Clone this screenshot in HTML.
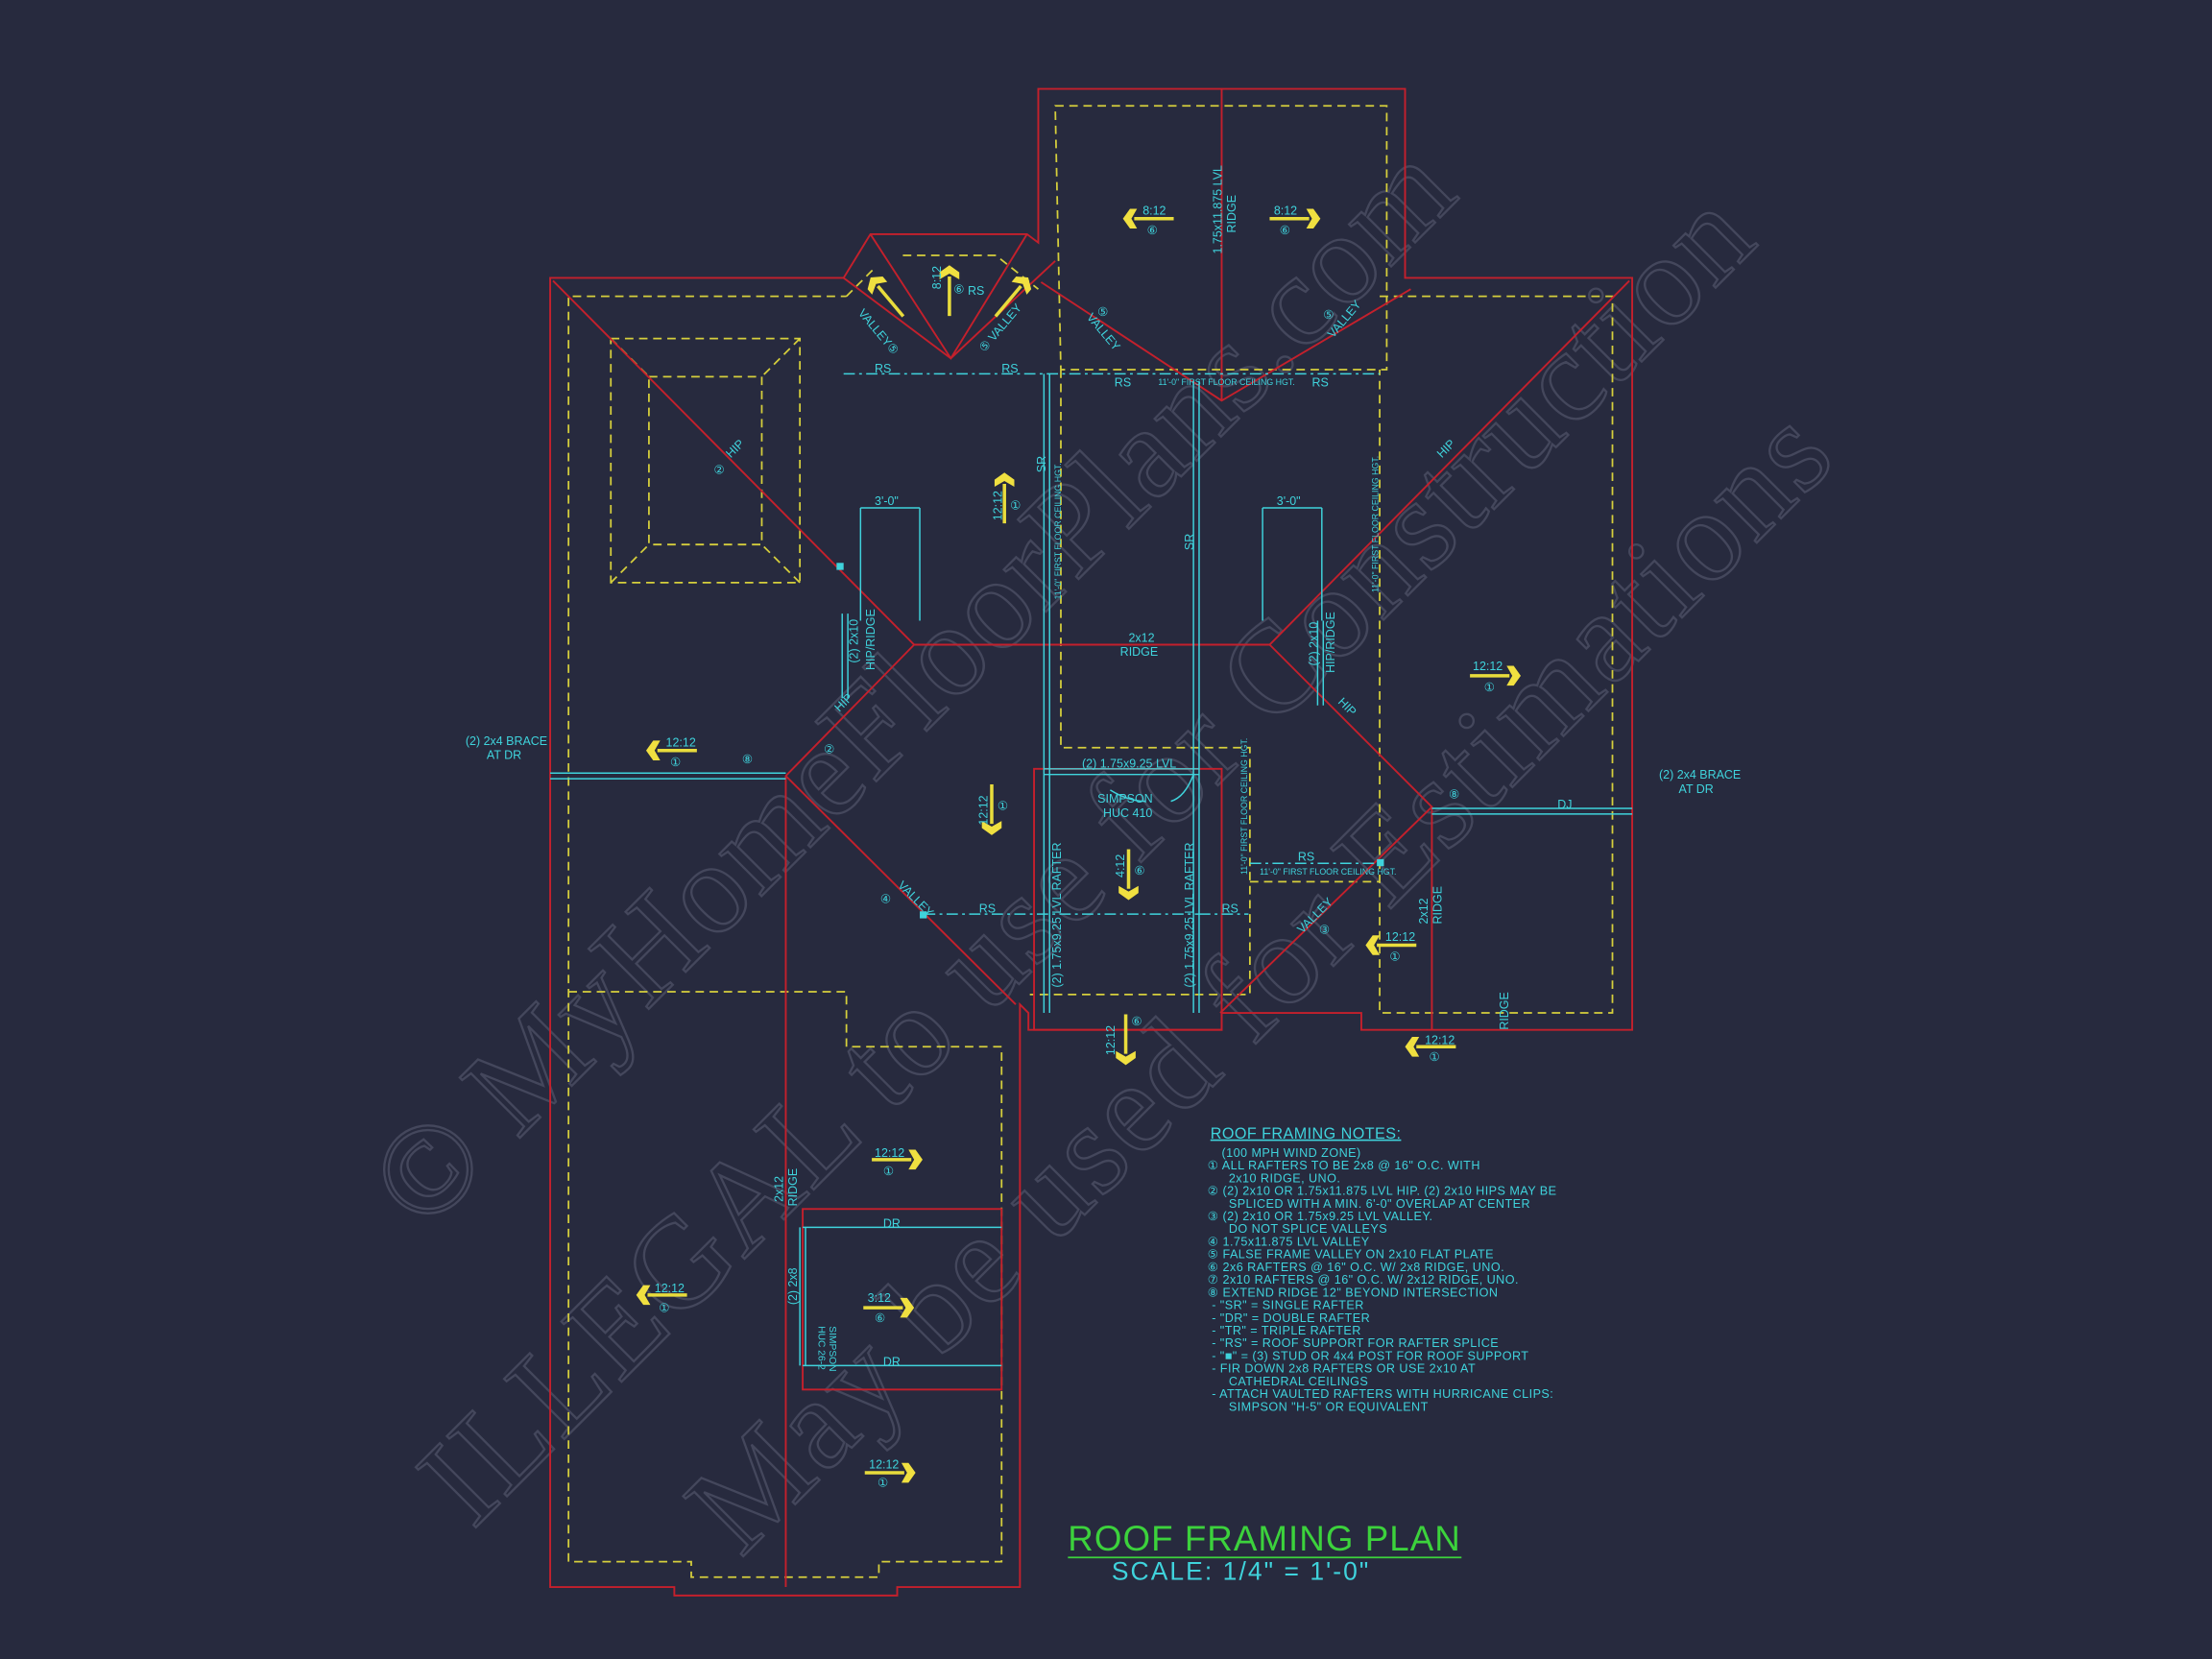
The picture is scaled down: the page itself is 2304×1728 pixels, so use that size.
<!DOCTYPE html>
<html><head><meta charset="utf-8"><style>
html,body{margin:0;padding:0;background:#272a3e;}
svg{display:block}
text{font-family:"Liberation Sans",sans-serif;}
.c{fill:#3fd3dc;font-size:8.5px}
.r{stroke:#c4202c;stroke-width:1.3;fill:none}
.y{stroke:#d6cf3c;stroke-width:1.2;fill:none;stroke-dasharray:6 4}
.cy{stroke:#3fd3dc;stroke-width:1;fill:none}
.cyd{stroke:#3fd3dc;stroke-width:1;fill:none;stroke-dasharray:8 3 2 3}
.wm{fill:none;stroke:#44475c;stroke-width:1.6;font-family:"Liberation Serif",serif;font-size:92px}
</style></head><body>
<svg width="2304" height="1728" viewBox="0 0 1568 1176" xmlns="http://www.w3.org/2000/svg">
<defs>
<g id="ar"><line x1="-16" y1="0" x2="12" y2="0" stroke="#e8dc3c" stroke-width="2.4"/><polygon points="10,-7 15,-7 20,0 15,7 10,7 14,0" fill="#f0e040"/></g>
</defs>
<rect width="1568" height="1176" fill="#272a3e"/>
<!-- watermark -->
<text class="wm" transform="translate(300,875) rotate(-45)" textLength="1040">© MyHomeFloorPlans.com</text>
<text class="wm" transform="translate(335,1085) rotate(-45)" textLength="1290">ILLEGAL to use for Construction</text>
<text class="wm" transform="translate(525,1105) rotate(-45)" textLength="1100">May be used for Estimations</text>

<!-- yellow dashed -->
<path class="y" d="M403,1107 L403,210 L600,210 M640,181 L706,181 L736,205 M748,75 L983,75 L983,262 L752,262 Z M978,210 L1143,210 L1143,718 L978,718 L978,262 M752,262 L752,530 L886,530 L886,705 L730,705 M886,625 L978,625 M403,703 L600,703 L600,742 L710,742 L710,1107 L623,1107 L623,1118 L490,1118 L490,1107 L403,1107 M600,210 L620,190"/>
<rect class="y" x="433" y="240" width="134" height="173"/>
<rect class="y" x="460" y="267" width="80" height="119"/>
<path class="y" d="M433,240 L460,267 M567,240 L540,267 M433,413 L460,386 M567,413 L540,386"/>

<!-- red -->
<path class="r" d="M736,63 L996,63 L996,197 L1157,197 L1157,730 L965,730 L965,718 L866,718 L866,730 L729,730 L729,718 L723,712 L723,1125 L636,1125 L636,1131 L478,1131 L478,1125 L390,1125 L390,197 L598,197 L617,166 L728,166 L736,172 Z"/>
<path class="r" d="M392,199 L648,457 L900,457 L1155,199 M557,550 L648,457 M557,550 L720,712 M900,457 L1015,572 L865,718 M557,550 L557,1125 M866,63 L866,284 M738,200 L866,284 L1000,205 M598,197 L674,254 L748,185 M617,166 L674,254 L728,166 M1015,572 L1015,730"/>
<rect class="r" x="733" y="545" width="133" height="185"/>
<rect class="r" x="569" y="857" width="141" height="128"/>

<!-- cyan lines -->
<path class="cyd" d="M598,265 L978,265 M655,648 L850,648 M850,648 L885,648 M886,612 L978,612"/>
<path class="cy" d="M740,265 L740,718 M744,265 L744,718 M846,270 L846,718 M850,270 L850,718 M390,548 L557,548 M390,552 L557,552 M1015,573 L1157,573 M1015,577 L1157,577 M740,545 L850,545 M740,549 L850,549 M569,870 L710,870 M569,968 L710,968 M567,870 L567,968 M571,870 L571,968 M934,440 L934,500 M938,440 L938,500 M597,435 L597,495 M601,435 L601,495"/>
<path class="cy" d="M610,360 L652,360 M610,360 L610,440 M652,360 L652,440 M895,360 L937,360 M895,360 L895,440 M937,360 L937,440 M787,560 Q800,568 812,568 M830,568 Q840,565 846,549"/>
<rect x="593" y="399" width="5" height="5" fill="#3fd3dc"/>
<rect x="652" y="646" width="5" height="5" fill="#3fd3dc"/>
<rect x="976" y="609" width="5" height="5" fill="#3fd3dc"/>

<!-- arrows -->
<use href="#ar" transform="translate(816,155) rotate(180)"/>
<use href="#ar" transform="translate(916,155)"/>
<use href="#ar" transform="translate(673,208) rotate(-90)"/>
<use href="#ar" transform="translate(630,212) rotate(-130)"/>
<use href="#ar" transform="translate(716,212) rotate(-50)"/>
<use href="#ar" transform="translate(712,355) rotate(-90)"/>
<use href="#ar" transform="translate(478,532) rotate(180)"/>
<use href="#ar" transform="translate(1058,479)"/>
<use href="#ar" transform="translate(703,572) rotate(90)"/>
<use href="#ar" transform="translate(800,618) rotate(90)"/>
<use href="#ar" transform="translate(988,670) rotate(180)"/>
<use href="#ar" transform="translate(798,735) rotate(90)"/>
<use href="#ar" transform="translate(1016,742) rotate(180)"/>
<use href="#ar" transform="translate(634,822)"/>
<use href="#ar" transform="translate(471,918) rotate(180)"/>
<use href="#ar" transform="translate(628,927)"/>
<use href="#ar" transform="translate(629,1044)"/>

<!-- labels -->
<g class="c">
<text x="810" y="152">8:12</text><text x="813" y="166">⑥</text>
<text x="903" y="152">8:12</text><text x="907" y="166">⑥</text>
<text x="866" y="180" transform="rotate(-90 866 180)">1.75x11.875 LVL</text>
<text x="876" y="165" transform="rotate(-90 876 165)">RIDGE</text>
<text x="770" y="225" transform="rotate(50 770 225)">VALLEY</text><text x="778" y="224">⑤</text>
<text x="945" y="240" transform="rotate(-50 945 240)">VALLEY</text><text x="938" y="226">⑤</text>
<text x="790" y="274">RS</text><text x="930" y="274">RS</text><text x="821" y="273" style="font-size:6px">11'-0" FIRST FLOOR CEILING HGT.</text>
<text x="620" y="264">RS</text><text x="710" y="264">RS</text>
<text x="686" y="209">RS</text>
<text x="608" y="222" transform="rotate(50 608 222)">VALLEY⑤</text>
<text x="698" y="250" transform="rotate(-50 698 250)">⑤ VALLEY</text>
<text x="667" y="205" transform="rotate(-90 667 205)">8:12</text><text x="676" y="208">⑥</text>
<text x="506" y="336">②</text><text x="518" y="325" transform="rotate(-45 518 325)">HIP</text>
<text x="710" y="369" transform="rotate(-90 710 369)">12:12</text><text x="716" y="361">①</text>
<text x="741" y="335" transform="rotate(-90 741 335)">SR</text>
<text x="846" y="390" transform="rotate(-90 846 390)">SR</text>
<text x="752" y="425" transform="rotate(-90 752 425)" style="font-size:6px">11'-0" FIRST FLOOR CEILING HGT.</text>
<text x="977" y="420" transform="rotate(-90 977 420)" style="font-size:6px">11'-0" FIRST FLOOR CEILING HGT.</text>
<text x="1022" y="325" transform="rotate(-45 1022 325)">HIP</text>
<text x="620" y="358">3'-0"</text><text x="905" y="358">3'-0"</text>
<text x="608" y="470" transform="rotate(-90 608 470)">(2) 2x10</text>
<text x="620" y="475" transform="rotate(-90 620 475)">HIP/RIDGE</text>
<text x="934" y="472" transform="rotate(-90 934 472)">(2) 2x10</text>
<text x="946" y="477" transform="rotate(-90 946 477)">HIP/RIDGE</text>
<text x="800" y="455">2x12</text><text x="794" y="465">RIDGE</text>
<text x="595" y="505" transform="rotate(-45 595 505)">HIP</text>
<text x="948" y="498" transform="rotate(45 948 498)">HIP</text>
<text x="1044" y="475">12:12</text><text x="1052" y="490">①</text>
<text x="330" y="528">(2) 2x4 BRACE</text><text x="345" y="538">AT DR</text>
<text x="472" y="529">12:12</text><text x="475" y="543">①</text>
<text x="526" y="541">⑧</text><text x="584" y="534">②</text>
<text x="1176" y="552">(2) 2x4 BRACE</text><text x="1190" y="562">AT DR</text>
<text x="1027" y="566">⑧</text><text x="1104" y="573">DJ</text>
<text x="767" y="544">(2) 1.75x9.25 LVL</text>
<text x="778" y="569">SIMPSON</text><text x="782" y="579">HUC 410</text>
<text x="700" y="585" transform="rotate(-90 700 585)">12:12</text><text x="707" y="574">①</text>
<text x="797" y="622" transform="rotate(-90 797 622)">4:12</text><text x="804" y="620">⑥</text>
<text x="752" y="700" transform="rotate(-90 752 700)">(2) 1.75x9.25 LVL RAFTER</text>
<text x="846" y="700" transform="rotate(-90 846 700)">(2) 1.75x9.25 LVL RAFTER</text>
<text x="884" y="620" transform="rotate(-90 884 620)" style="font-size:6px">11'-0" FIRST FLOOR CEILING HGT.</text>
<text x="893" y="620" style="font-size:6px">11'-0" FIRST FLOOR CEILING HGT.</text>
<text x="920" y="610">RS</text><text x="866" y="647">RS</text><text x="694" y="647">RS</text>
<text x="636" y="628" transform="rotate(45 636 628)">VALLEY</text><text x="624" y="640">④</text>
<text x="923" y="662" transform="rotate(-45 923 662)">VALLEY</text><text x="935" y="662">③</text>
<text x="982" y="667">12:12</text><text x="985" y="681">①</text>
<text x="1012" y="655" transform="rotate(-90 1012 655)">2x12</text>
<text x="1022" y="655" transform="rotate(-90 1022 655)">RIDGE</text>
<text x="1069" y="730" transform="rotate(-90 1069 730)">RIDGE</text>
<text x="790" y="748" transform="rotate(-90 790 748)">12:12</text><text x="802" y="727">⑥</text>
<text x="1010" y="740">12:12</text><text x="1013" y="752">①</text>
<text x="620" y="820">12:12</text><text x="626" y="833">①</text>
<text x="555" y="852" transform="rotate(-90 555 852)">2x12</text>
<text x="565" y="855" transform="rotate(-90 565 855)">RIDGE</text>
<text x="626" y="870">DR</text><text x="626" y="968">DR</text>
<text x="565" y="925" transform="rotate(-90 565 925)">(2) 2x8</text>
<text x="588" y="940" transform="rotate(90 588 940)" style="font-size:7px">SIMPSON</text>
<text x="580" y="940" transform="rotate(90 580 940)" style="font-size:7px">HUC 26-2</text>
<text x="615" y="923">3:12</text><text x="620" y="937">⑥</text>
<text x="464" y="916">12:12</text><text x="467" y="930">①</text>
<text x="616" y="1041">12:12</text><text x="622" y="1054">①</text>
</g>

<!-- notes -->
<g class="c" style="font-size:8.6px;letter-spacing:0.3px">
<text x="858" y="807" style="font-size:11px;text-decoration:underline">ROOF FRAMING NOTES:</text>
<text x="866" y="820">(100 MPH WIND ZONE)</text>
<text x="856" y="829">①  ALL RAFTERS TO BE 2x8 @ 16" O.C. WITH</text>
<text x="871" y="838">2x10 RIDGE, UNO.</text>
<text x="856" y="847">②  (2) 2x10 OR 1.75x11.875 LVL HIP. (2) 2x10 HIPS MAY BE</text>
<text x="871" y="856">SPLICED WITH A MIN. 6'-0" OVERLAP AT CENTER</text>
<text x="856" y="865">③  (2) 2x10 OR 1.75x9.25 LVL VALLEY.</text>
<text x="871" y="874">DO NOT SPLICE VALLEYS</text>
<text x="856" y="883">④  1.75x11.875 LVL VALLEY</text>
<text x="856" y="892">⑤  FALSE FRAME VALLEY ON 2x10 FLAT PLATE</text>
<text x="856" y="901">⑥  2x6 RAFTERS @ 16" O.C. W/ 2x8 RIDGE, UNO.</text>
<text x="856" y="910">⑦  2x10 RAFTERS @ 16" O.C. W/ 2x12 RIDGE, UNO.</text>
<text x="856" y="919">⑧  EXTEND RIDGE 12" BEYOND INTERSECTION</text>
<text x="859" y="928">-   "SR" = SINGLE RAFTER</text>
<text x="859" y="937">-   "DR" = DOUBLE RAFTER</text>
<text x="859" y="946">-   "TR" = TRIPLE RAFTER</text>
<text x="859" y="955">-   "RS" = ROOF SUPPORT FOR RAFTER SPLICE</text>
<text x="859" y="964">-   "■"  = (3) STUD OR 4x4 POST FOR ROOF SUPPORT</text>
<text x="859" y="973">-   FIR DOWN 2x8 RAFTERS OR USE 2x10 AT</text>
<text x="871" y="982">CATHEDRAL CEILINGS</text>
<text x="859" y="991">-   ATTACH VAULTED RAFTERS WITH HURRICANE CLIPS:</text>
<text x="871" y="1000">SIMPSON "H-5" OR EQUIVALENT</text>
</g>

<!-- title -->
<text x="757" y="1099" textLength="278" style="fill:#3cd23c;font-size:25px">ROOF FRAMING PLAN</text>
<line x1="757" y1="1104" x2="1036" y2="1104" stroke="#3cd23c" stroke-width="1.2"/>
<text x="788" y="1120" textLength="182" style="fill:#3fd3dc;font-size:18px">SCALE: 1/4" = 1'-0"</text>
</svg>
</body></html>
